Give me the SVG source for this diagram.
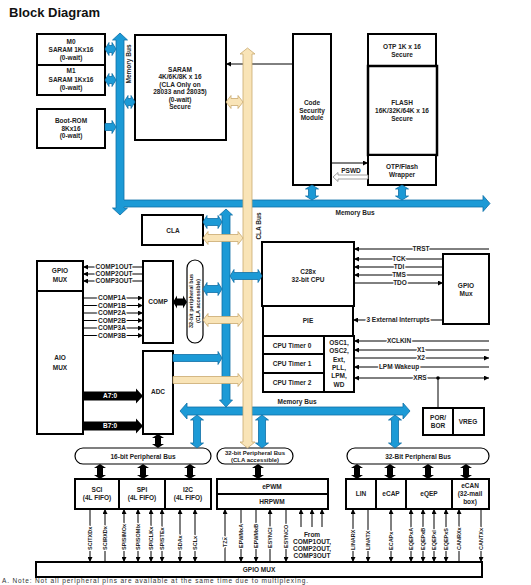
<svg xmlns="http://www.w3.org/2000/svg" xmlns:xlink="http://www.w3.org/1999/xlink" width="531" height="585" viewBox="0 0 531 585">
<style>
.b{fill:#fff;stroke:#000;stroke-width:2}
.b1{fill:#fff;stroke:#000;stroke-width:1.2}
.t{font-family:"Liberation Sans",Arial,sans-serif;font-size:6.5px;font-weight:bold;fill:#222;text-anchor:middle}
.s{font-size:5.5px}
.m{font-size:6px}
.p{font-family:"Liberation Sans",Arial,sans-serif;font-size:5.5px;font-weight:bold;fill:#222;text-anchor:start}
.h{stroke:#fff;stroke-width:2.5;paint-order:stroke;stroke-linejoin:round}
.ln{stroke:#000;stroke-width:1;fill:none}
.blue{fill:#1c9ad6;stroke:#0f6ea6;stroke-width:0.8}
.tan{fill:#f9e4b7;stroke:#c9a96e;stroke-width:0.8}
.blk{fill:#000}
.ov{text-decoration:overline}
</style>
<defs>
<marker id="ah" viewBox="0 0 6 6" refX="6" refY="3" markerWidth="5" markerHeight="5" orient="auto-start-reverse" markerUnits="userSpaceOnUse"><path d="M0,0 L6,3 L0,6 Z" fill="#000"/></marker>
<polygon id="bk" points="0,464 6,468 3,468 3,475 6,475 0,479 -6,475 -3,475 -3,468 -6,468" fill="#000"/>
</defs>
<rect width="531" height="585" fill="#fff"/>
<text x="9" y="17" style="font-family:'Liberation Sans',Arial,sans-serif;font-size:13px;font-weight:bold;fill:#111">Block Diagram</text>

<g id="m0"><rect class="b" x="37" y="34" width="68" height="31"/><text class="t" x="71" y="44">M0</text><text class="t" x="71" y="52">SARAM 1Kx16</text><text class="t" x="71" y="59.5">(0-wait)</text></g>
<g id="m1"><rect class="b" x="37" y="65" width="68" height="30"/><text class="t" x="71" y="73">M1</text><text class="t" x="71" y="82">SARAM 1Kx16</text><text class="t" x="71" y="90">(0-wait)</text></g>
<g id="bootrom"><rect class="b" x="37" y="109" width="68" height="39"/><text class="t" x="71" y="123">Boot-ROM</text><text class="t" x="71" y="130.5">8Kx16</text><text class="t" x="71" y="138">(0-wait)</text></g>
<g id="saram"><rect class="b" x="135" y="35" width="91" height="105"/><text class="t" x="180" y="72">SARAM</text><text class="t" x="180" y="79">4K/6K/8K x 16</text><text class="t" x="180" y="86.5">(CLA Only on</text><text class="t" x="180" y="94">28033 and 28035)</text><text class="t" x="180" y="101.5">(0-wait)</text><text class="t" x="180" y="108.5">Secure</text></g>
<g id="csm"><rect class="b" x="293" y="34" width="38" height="151"/><text class="t" x="312" y="105">Code</text><text class="t" x="312" y="113">Security</text><text class="t" x="312" y="120">Module</text></g>
<g id="otp"><rect class="b" x="368" y="34" width="68" height="32"/><text class="t" x="402" y="49">OTP 1K x 16</text><text class="t" x="402" y="57">Secure</text></g>
<g id="flash"><rect class="b" x="368" y="66" width="69" height="89" style="stroke-width:2.5"/><text class="t" x="402" y="105">FLASH</text><text class="t" x="402" y="113">16K/32K/64K x 16</text><text class="t" x="402" y="121">Secure</text></g>
<g id="wrapper"><rect class="b" x="368" y="155" width="68" height="30"/><text class="t" x="402" y="169">OTP/Flash</text><text class="t" x="402" y="176.5">Wrapper</text></g>
<g id="cla"><rect class="b" x="142" y="215" width="61" height="30"/><text class="t" x="173" y="233">CLA</text></g>
<g id="gpiomux-left"><rect class="b" x="37" y="261" width="46" height="30"/><text class="t" x="60" y="273">GPIO</text><text class="t" x="60" y="282">MUX</text></g>
<g id="aiomux"><rect class="b" x="37" y="291" width="46" height="143"/><text class="t" x="60" y="360">AIO</text><text class="t" x="60" y="370">MUX</text></g>
<g id="comp"><rect class="b" x="143" y="261" width="30" height="82"/><text class="t" x="158" y="304">COMP</text></g>
<g id="adc"><rect class="b" x="143" y="351" width="30" height="83"/><text class="t" x="158" y="394">ADC</text></g>
<g id="pbus-vert"><rect class="b1" x="187" y="260" width="16" height="83" rx="8"/><text class="t s" transform="translate(193,301) rotate(-90)">32-bit peripheral bus</text><text class="t s" transform="translate(200,301) rotate(-90)">(CLA accessible)</text></g>
<g id="cpu"><rect class="b" x="262" y="242" width="92" height="64"/><text class="t" x="308" y="274">C28x</text><text class="t" x="308" y="281.5">32-bit CPU</text></g>
<g id="pie"><rect class="b" x="263" y="306" width="90" height="30"/><text class="t" x="308" y="322.5">PIE</text></g>
<g id="timer0"><rect class="b" x="263" y="336" width="61" height="18"/><text class="t" x="292" y="347.5">CPU Timer 0</text></g>
<g id="timer1"><rect class="b" x="263" y="354" width="61" height="19"/><text class="t" x="292" y="365.5">CPU Timer 1</text></g>
<g id="timer2"><rect class="b" x="263" y="373" width="61" height="19"/><text class="t" x="292" y="384.5">CPU Timer 2</text></g>
<g id="osc"><rect class="b" x="324" y="336" width="30" height="56"/><text class="t" x="339" y="345">OSC1,</text><text class="t" x="339" y="353">OSC2,</text><text class="t" x="339" y="362">Ext,</text><text class="t" x="339" y="370">PLL,</text><text class="t" x="339" y="378">LPM,</text><text class="t" x="339" y="386.5">WD</text></g>
<g id="gpiomux-right"><rect class="b" x="443" y="254" width="46" height="70"/><text class="t" x="466" y="288">GPIO</text><text class="t" x="466" y="296">Mux</text></g>
<g id="porbor"><rect class="b" x="423" y="408" width="30" height="27"/><text class="t" x="438" y="420">POR/</text><text class="t" x="438" y="428">BOR</text></g>
<g id="vreg"><rect class="b" x="453" y="408" width="31" height="27"/><text class="t" x="468" y="424">VREG</text></g>
<g id="bus16"><rect class="b1" x="75" y="448" width="136" height="16" rx="8"/><text class="t" x="143" y="458.5">16-bit Peripheral Bus</text></g>
<g id="bus32cla"><rect class="b1" x="217" y="448" width="76" height="16" rx="8"/><text class="t m" x="255" y="454.5">32-bit Peripheral Bus</text><text class="t m" x="255" y="461.5">(CLA accessible)</text></g>
<g id="bus32"><rect class="b1" x="347" y="448" width="142" height="16" rx="8"/><text class="t" x="418" y="458.5">32-Bit Peripheral Bus</text></g>
<g id="sci"><rect class="b" x="75" y="479" width="44" height="30"/><text class="t" x="97" y="492">SCI</text><text class="t" x="97" y="499.5">(4L FIFO)</text></g>
<g id="spi"><rect class="b" x="119" y="479" width="46" height="30"/><text class="t" x="142" y="492">SPI</text><text class="t" x="142" y="499.5">(4L FIFO)</text></g>
<g id="i2c"><rect class="b" x="165" y="479" width="46" height="30"/><text class="t" x="188" y="492">I2C</text><text class="t" x="188" y="499.5">(4L FIFO)</text></g>
<g id="epwm"><rect class="b" x="217" y="479" width="111" height="15"/><text class="t" x="272" y="489">ePWM</text></g>
<g id="hrpwm"><rect class="b" x="217" y="494" width="111" height="15"/><text class="t" x="272" y="504">HRPWM</text></g>
<g id="lin"><rect class="b" x="346" y="479" width="30" height="30"/><text class="t" x="361" y="495.5">LIN</text></g>
<g id="ecap"><rect class="b" x="376" y="479" width="30" height="30"/><text class="t" x="391" y="495.5">eCAP</text></g>
<g id="eqep"><rect class="b" x="406" y="479" width="46" height="30"/><text class="t" x="429" y="495.5">eQEP</text></g>
<g id="ecan"><rect class="b" x="452" y="479" width="37" height="30"/><text class="t" x="470" y="488">eCAN</text><text class="t" x="470" y="496">(32-mail</text><text class="t" x="470" y="504">box)</text></g>
<g id="gpiomux-bottom"><rect class="b" x="36" y="562" width="446" height="15"/><text class="t" x="259" y="572">GPIO MUX</text></g>

<g id="connectors">
<line class="ln" x1="293" y1="64" x2="226" y2="64" marker-end="url(#ah)"/>
<line class="ln" x1="331" y1="163" x2="368" y2="163" marker-end="url(#ah)"/>
<polygon points="333,177 338,172.5 338,175 368,175 368,179 338,179 338,181.5" fill="#fff" stroke="#888" stroke-width="0.8"/>
<text class="t" x="351" y="173">PSWD</text>
<line class="ln" x1="143" y1="267" x2="83" y2="267" marker-end="url(#ah)"/>
<line class="ln" x1="143" y1="274" x2="83" y2="274" marker-end="url(#ah)"/>
<line class="ln" x1="143" y1="281" x2="83" y2="281" marker-end="url(#ah)"/>
<text class="t h" x="114" y="269">COMP1OUT</text>
<text class="t h" x="114" y="276">COMP2OUT</text>
<text class="t h" x="114" y="283">COMP3OUT</text>
<line class="ln" x1="83" y1="298" x2="143" y2="298" marker-end="url(#ah)"/>
<line class="ln" x1="83" y1="305.5" x2="143" y2="305.5" marker-end="url(#ah)"/>
<line class="ln" x1="83" y1="313" x2="143" y2="313" marker-end="url(#ah)"/>
<line class="ln" x1="83" y1="320.5" x2="143" y2="320.5" marker-end="url(#ah)"/>
<line class="ln" x1="83" y1="328" x2="143" y2="328" marker-end="url(#ah)"/>
<line class="ln" x1="83" y1="335.5" x2="143" y2="335.5" marker-end="url(#ah)"/>
<text class="t h" x="112" y="300.2">COMP1A</text>
<text class="t h" x="112" y="307.7">COMP1B</text>
<text class="t h" x="112" y="315.2">COMP2A</text>
<text class="t h" x="112" y="322.7">COMP2B</text>
<text class="t h" x="112" y="330.2">COMP3A</text>
<text class="t h" x="112" y="337.7">COMP3B</text>
<line class="ln" x1="489" y1="249" x2="354" y2="249" marker-end="url(#ah)"/>
<line class="ln" x1="443" y1="259" x2="354" y2="259" marker-end="url(#ah)"/>
<line class="ln" x1="443" y1="267" x2="354" y2="267" marker-end="url(#ah)"/>
<line class="ln" x1="443" y1="275" x2="354" y2="275" marker-end="url(#ah)"/>
<line class="ln" x1="354" y1="283" x2="443" y2="283" marker-end="url(#ah)"/>
<line class="ln" x1="443" y1="320" x2="353" y2="320" marker-end="url(#ah)"/>
<line class="ln" x1="489" y1="341" x2="354" y2="341" marker-end="url(#ah)"/>
<line class="ln" x1="489" y1="350" x2="354" y2="350" marker-end="url(#ah)"/>
<line class="ln" x1="354" y1="358" x2="489" y2="358" marker-end="url(#ah)"/>
<line class="ln" x1="489" y1="367" x2="354" y2="367" marker-end="url(#ah)"/>
<line class="ln" x1="354" y1="378" x2="489" y2="378" marker-start="url(#ah)" marker-end="url(#ah)"/>
<line class="ln" x1="438" y1="378" x2="438" y2="408"/>
<circle cx="438" cy="378" r="1.8" fill="#000"/>
<text class="t h ov" x="421" y="251.2">TRST</text>
<text class="t h" x="399" y="261.2">TCK</text>
<text class="t h" x="399" y="269.2">TDI</text>
<text class="t h" x="399" y="277.2">TMS</text>
<text class="t h" x="400" y="285.2">TDO</text>
<text class="t h" x="398" y="322.2">3 External Interrupts</text>
<text class="t h" x="399" y="343.2">XCLKIN</text>
<text class="t h" x="421" y="352.2">X1</text>
<text class="t h" x="421" y="360.2">X2</text>
<text class="t h" x="399" y="369.2">LPM Wakeup</text>
<text class="t h ov" x="420" y="380.2">XRS</text>
<line class="ln" x1="90" y1="509" x2="90" y2="562" marker-end="url(#ah)"/>
<line class="ln" x1="105" y1="562" x2="105" y2="509" marker-end="url(#ah)"/>
<line class="ln" x1="124" y1="509" x2="124" y2="562" marker-start="url(#ah)" marker-end="url(#ah)"/>
<line class="ln" x1="138" y1="509" x2="138" y2="562" marker-start="url(#ah)" marker-end="url(#ah)"/>
<line class="ln" x1="151" y1="509" x2="151" y2="562" marker-start="url(#ah)" marker-end="url(#ah)"/>
<line class="ln" x1="162" y1="509" x2="162" y2="562" marker-start="url(#ah)" marker-end="url(#ah)"/>
<line class="ln" x1="180" y1="509" x2="180" y2="562" marker-start="url(#ah)" marker-end="url(#ah)"/>
<line class="ln" x1="195" y1="509" x2="195" y2="562" marker-start="url(#ah)" marker-end="url(#ah)"/>
<line class="ln" x1="225" y1="562" x2="225" y2="509" marker-end="url(#ah)"/>
<line class="ln" x1="241" y1="509" x2="241" y2="562" marker-end="url(#ah)"/>
<line class="ln" x1="256" y1="509" x2="256" y2="562" marker-end="url(#ah)"/>
<line class="ln" x1="270" y1="562" x2="270" y2="509" marker-end="url(#ah)"/>
<line class="ln" x1="286" y1="509" x2="286" y2="562" marker-end="url(#ah)"/>
<line class="ln" x1="301" y1="527" x2="301" y2="509" marker-end="url(#ah)"/>
<line class="ln" x1="312" y1="527" x2="312" y2="509" marker-end="url(#ah)"/>
<line class="ln" x1="322" y1="527" x2="322" y2="509" marker-end="url(#ah)"/>
<line class="ln" x1="353" y1="509" x2="353" y2="562" marker-start="url(#ah)" marker-end="url(#ah)"/>
<line class="ln" x1="368" y1="509" x2="368" y2="562" marker-end="url(#ah)"/>
<line class="ln" x1="391" y1="509" x2="391" y2="562" marker-start="url(#ah)" marker-end="url(#ah)"/>
<line class="ln" x1="411" y1="509" x2="411" y2="562" marker-start="url(#ah)" marker-end="url(#ah)"/>
<line class="ln" x1="423" y1="509" x2="423" y2="562" marker-start="url(#ah)" marker-end="url(#ah)"/>
<line class="ln" x1="434" y1="509" x2="434" y2="562" marker-start="url(#ah)" marker-end="url(#ah)"/>
<line class="ln" x1="446" y1="509" x2="446" y2="562" marker-start="url(#ah)" marker-end="url(#ah)"/>
<line class="ln" x1="459" y1="562" x2="459" y2="509" marker-end="url(#ah)"/>
<line class="ln" x1="481" y1="509" x2="481" y2="562" marker-end="url(#ah)"/>
<text class="p h" transform="translate(92,550) rotate(-90)">SCITXDx</text>
<text class="p h" transform="translate(107,550) rotate(-90)">SCIRXDx</text>
<text class="p h" transform="translate(126,550) rotate(-90)">SPISIMOx</text>
<text class="p h" transform="translate(140,550) rotate(-90)">SPISOMIx</text>
<text class="p h" transform="translate(153,550) rotate(-90)">SPICLKx</text>
<text class="p h" transform="translate(164,550) rotate(-90)">SPISTEx</text>
<text class="p h" transform="translate(182,550) rotate(-90)">SDAx</text>
<text class="p h" transform="translate(197,550) rotate(-90)">SCLx</text>
<text class="p h ov" transform="translate(227,547) rotate(-90)">TZx</text>
<text class="p h" transform="translate(243,548) rotate(-90)">EPWMxA</text>
<text class="p h" transform="translate(258,548) rotate(-90)">EPWMxB</text>
<text class="p h" transform="translate(272,548) rotate(-90)">ESYNCI</text>
<text class="p h" transform="translate(288,548) rotate(-90)">ESYNCO</text>
<text class="t" x="312" y="537">From</text>
<text class="t" x="312" y="544">COMP1OUT,</text>
<text class="t" x="312" y="551">COMP2OUT,</text>
<text class="t" x="312" y="558">COMP3OUT</text>
<text class="p h" transform="translate(355,550) rotate(-90)">LINARX</text>
<text class="p h" transform="translate(370,550) rotate(-90)">LINATX</text>
<text class="p h" transform="translate(393,550) rotate(-90)">ECAPx</text>
<text class="p h" transform="translate(413,550) rotate(-90)">EQEPxA</text>
<text class="p h" transform="translate(425,550) rotate(-90)">EQEPxB</text>
<text class="p h" transform="translate(436,550) rotate(-90)">EQEPxI</text>
<text class="p h" transform="translate(448,550) rotate(-90)">EQEPxS</text>
<text class="p h" transform="translate(461,550) rotate(-90)">CANRXx</text>
<text class="p h" transform="translate(483,550) rotate(-90)">CANTXx</text>

<path class="blue" d="M120,33 L127.5,40 L124,40 L124,200 L483,200 L483,195.5 L490,203.5 L483,211.5 L483,207 L124,207 L124,208 L127.5,208 L120,215 L112.5,208 L116,208 L116,40 L112.5,40 Z"/>
<polygon class="blue" points="226,209 232.5,215 230,215 230,400 232.5,400 226,407 219.5,400 222,400 222,215 219.5,215"/>
<polygon class="blue" points="180,411 187,403 187,407 403,407 403,403 410,411 403,419 403,415 187,415 187,419"/>
<polygon class="blue" points="105,49 109,42.5 109,45.5 112,45.5 112,42.5 116,49 112,55.5 112,52.5 109,52.5 109,55.5"/>
<polygon class="blue" points="105,80 109,73.5 109,76.5 112,76.5 112,73.5 116,80 112,86.5 112,83.5 109,83.5 109,86.5"/>
<polygon class="blue" points="124,102 128,95.5 128,98.5 131,98.5 131,95.5 135,102 131,108.5 131,105.5 128,105.5 128,108.5"/>
<polygon class="blue" points="105,123.5 112,123.5 112,120.5 116,127 112,133.5 112,130.5 105,130.5"/>
<polygon class="blue" points="312,185 318.5,189 315.5,189 315.5,196 318.5,196 312,200 305.5,196 308.5,196 308.5,189 305.5,189"/>
<polygon class="blue" points="402,185 408.5,189 405.5,189 405.5,196 408.5,196 402,200 395.5,196 398.5,196 398.5,189 395.5,189"/>
<polygon class="blue" points="203,222 207,215.5 207,218.5 218,218.5 218,215.5 222,222 218,228.5 218,225.5 207,225.5 207,228.5"/>
<polygon class="blue" points="203,289 207,282.5 207,285.5 218,285.5 218,282.5 222,289 218,295.5 218,292.5 207,292.5 207,295.5"/>
<polygon class="blue" points="173,354.5 218,354.5 218,351.5 222,358 218,364.5 218,361.5 173,361.5"/>
<polygon class="blue" points="197,415 203.5,420 200.5,420 200.5,443 203.5,443 197,448 190.5,443 193.5,443 193.5,420 190.5,420"/>
<polygon class="blue" points="262,415 268.5,420 265.5,420 265.5,443 268.5,443 262,448 255.5,443 258.5,443 258.5,420 255.5,420"/>
<polygon class="blue" points="395,415 401.5,420 398.5,420 398.5,443 401.5,443 395,448 388.5,443 391.5,443 391.5,420 388.5,420"/>
<polygon class="tan" points="247.5,48 255,54 252,54 252,442 255,442 247.5,448 240,442 243,442 243,54 240,54"/>
<polygon class="tan" points="226,102 231,95.5 231,98.5 238,98.5 238,95.5 243,102 238,108.5 238,105.5 231,105.5 231,108.5"/>
<polygon class="tan" points="203,238 208,231.5 208,234.5 238,234.5 238,231.5 243,238 238,244.5 238,241.5 208,241.5 208,244.5"/>
<polygon class="tan" points="203,320 208,313.5 208,316.5 238,316.5 238,313.5 243,320 238,326.5 238,323.5 208,323.5 208,326.5"/>
<polygon class="tan" points="173,376.5 238,376.5 238,373.5 243,380 238,386.5 238,383.5 173,383.5"/>
<polygon class="blue" points="230,276 234,269.5 234,272.5 258,272.5 258,269.5 262,276 258,282.5 258,279.5 234,279.5 234,282.5"/>
<polygon class="blk" points="173,302 177,295.5 177,298.5 183,298.5 183,295.5 187,302 183,308.5 183,305.5 177,305.5 177,308.5"/>
<polygon class="blk" points="83,391.5 136,391.5 136,388.5 143,396 136,403.5 136,400.5 83,400.5"/>
<polygon class="blk" points="83,421.5 136,421.5 136,418.5 143,426 136,433.5 136,430.5 83,430.5"/>
<text class="t" x="110" y="398.3" style="fill:#fff">A7:0</text>
<text class="t" x="110" y="428.3" style="fill:#fff">B7:0</text>
<polygon class="blk" points="158,434 164,438 161,438 161,444 164,444 158,448 152,444 155,444 155,438 152,438"/>
<use xlink:href="#bk" x="100"/><use xlink:href="#bk" x="143"/><use xlink:href="#bk" x="190"/><use xlink:href="#bk" x="258"/>
<use xlink:href="#bk" x="357"/><use xlink:href="#bk" x="390"/><use xlink:href="#bk" x="428"/><use xlink:href="#bk" x="466"/>
<text class="t" transform="translate(131,64) rotate(-90)">Memory Bus</text>
<text class="t" transform="translate(261,226) rotate(-90)">CLA Bus</text>
<text class="t" x="355" y="215">Memory Bus</text>
<text class="t" x="297" y="404">Memory Bus</text>
</g>
<text x="2" y="583" textLength="306" lengthAdjust="spacing" style="font-family:'Liberation Sans',Arial,sans-serif;font-size:6.5px;fill:#333">A.  Note: Not all peripheral pins are available at the same time due to multiplexing.</text>
</svg>
